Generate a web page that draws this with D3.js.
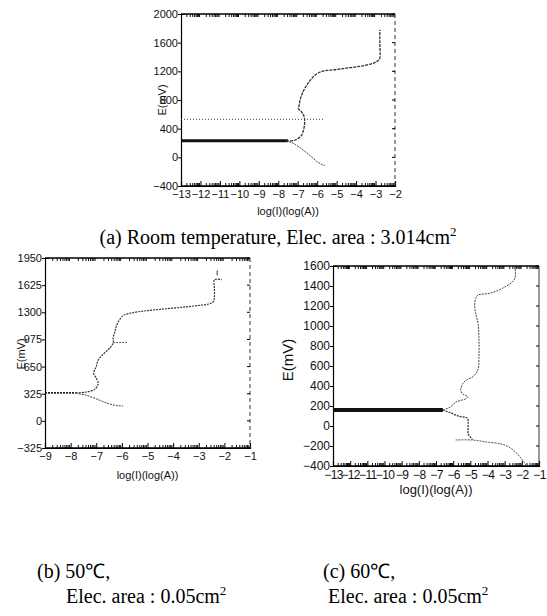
<!DOCTYPE html>
<html><head><meta charset="utf-8">
<script src="https://cdn.jsdelivr.net/npm/d3@7"></script>
<style>body{margin:0;background:#fff}</style>
</head><body>
<svg id="c" width="547" height="616"></svg>
<script>
// ---- data ----
const aXTicks = [-13,-12,-11,-10,-9,-8,-7,-6,-5,-4,-3,-2];
const aYTicks = [-400,0,400,800,1200,1600,2000];
const aPassive = [[-13,530],[-5.6,530]];
const aBase = [[-13,230],[-7.5,230]];
const aAnodic = [[-7.6,230],[-7.2,235],[-7.0,260],[-6.8,310],[-6.7,380],[-6.65,460],[-6.65,540],[-6.72,600],[-6.85,650],[-6.97,680],[-6.93,720],[-6.88,800],[-6.75,900],[-6.6,980],[-6.45,1040],[-6.25,1110],[-6.05,1160],[-5.75,1200],[-5.4,1215],[-5.0,1226],[-4.5,1245],[-4.0,1262],[-3.5,1285],[-3.1,1315],[-2.85,1355],[-2.78,1385],[-2.78,1600],[-2.78,1780]];
const aCathodic = [[-7.6,225],[-7.3,205],[-7.05,165],[-6.8,120],[-6.55,65],[-6.3,10],[-6.05,-50],[-5.8,-95],[-5.6,-115]];

const bXTicks = [-9,-8,-7,-6,-5,-4,-3,-2,-1];
const bYTicks = [-325,0,325,650,975,1300,1625,1950];
const bBase = [[-9,335],[-7.8,335]];
const bAnodic = [[-7.8,335],[-7.4,345],[-7.05,380],[-6.92,450],[-7.0,510],[-7.1,570],[-7.0,650],[-6.92,730],[-6.67,815],[-6.45,880],[-6.34,935],[-6.34,1000],[-6.28,1060],[-6.21,1140],[-6.08,1215],[-5.95,1260],[-5.63,1292],[-5.0,1320],[-4.33,1340],[-3.5,1365],[-3.03,1381],[-2.6,1400],[-2.42,1430],[-2.39,1480],[-2.39,1600],[-2.39,1690],[-2.1,1690]];
const bBranch = [[-6.34,936],[-5.8,940]];
const bCathodic = [[-7.8,330],[-7.44,310],[-7.05,270],[-6.54,208],[-6.15,180],[-5.95,180]];
const bMark = [[-2.28,1740],[-2.28,1800]];

const cXTicks = [-13,-12,-11,-10,-9,-8,-7,-6,-5,-4,-3,-2,-1];
const cYTicks = [-400,-200,0,200,400,600,800,1000,1200,1400,1600];
const cBase = [[-13,160],[-6.6,160]];
const cAnodic = [[-6.6,160],[-6.15,191],[-5.86,237],[-5.27,272],[-5.14,290],[-5.47,324],[-5.56,360],[-5.43,425],[-5.23,460],[-4.84,495],[-4.55,566],[-4.5,673],[-4.5,885],[-4.55,1027],[-4.65,1097],[-4.75,1204],[-4.69,1274],[-4.55,1310],[-3.87,1327],[-3.1,1380],[-2.42,1469],[-2.42,1600]];
const cCathodic = [[-6.6,160],[-6.15,132],[-5.66,97],[-5.17,79],[-5.13,44],[-5.13,-26],[-5.13,-78],[-4.98,-113],[-4.88,-138]];
const cTail = [[-5.86,-140],[-4.88,-140],[-4.1,-159],[-3.12,-184],[-2.53,-236],[-2.04,-324],[-1.75,-394]];

const xTitle = "log(I)(log(A))";
const yTitle = "E(mV)";

// ---- drawing ----
const svg = d3.select("#c");
svg.append("rect").attr("width",547).attr("height",616).attr("fill","#fff");
const sans = "Liberation Sans, Arial, sans-serif";

function panel(cfg){
  const g = svg.append("g");
  const x = d3.scaleLinear().domain(cfg.xd).range([cfg.l,cfg.r]);
  const y = d3.scaleLinear().domain(cfg.yd).range([cfg.b,cfg.t]);
  const minors = [];
  for(let d=cfg.xd[0]; d<cfg.xd[1]; d++) for(let k=2;k<=9;k++) minors.push(d+Math.log10(k));
  [[cfg.b,-3],[cfg.t,3]].forEach(([yy,dy])=>{
    g.selectAll(null).data(minors).enter().append("line")
      .attr("x1",d=>x(d)).attr("x2",d=>x(d)).attr("y1",yy).attr("y2",yy+dy).attr("stroke","#111").attr("stroke-width",1);
  });
  const xa = g.append("g").attr("transform",`translate(0,${cfg.b})`)
    .call(d3.axisBottom(x).tickValues(cfg.xt).tickSize(-5).tickPadding(4).tickFormat(d3.format("d")));
  const ya = g.append("g").attr("transform",`translate(${cfg.l},0)`)
    .call(d3.axisLeft(y).tickValues(cfg.yt).tickSize(-4).tickPadding(3).tickFormat(d3.format("d")));
  [xa,ya].forEach(a=>{a.select(".domain").attr("stroke","#000").attr("stroke-width",1.2);
    a.selectAll("text").attr("font-family",sans).attr("font-size",cfg.fs).attr("fill","#111");});
  xa.selectAll("text").attr("letter-spacing",cfg.ls||0);
  ya.selectAll(".tick line").attr("x2",-3).attr("x1",0);
  g.append("line").attr("x1",cfg.l).attr("x2",cfg.r).attr("y1",cfg.t).attr("y2",cfg.t).attr("stroke","#000").attr("stroke-width",1.6);
  g.append("line").attr("x1",cfg.l).attr("x2",cfg.r).attr("y1",cfg.b).attr("y2",cfg.b).attr("stroke","#000").attr("stroke-width",1.6);
  g.append("line").attr("x1",cfg.r).attr("x2",cfg.r).attr("y1",cfg.t).attr("y2",cfg.b).attr("stroke","#333")
    .attr("stroke-width",1).attr("stroke-dasharray",cfg.rdash||null);
  g.selectAll(null).data(cfg.yt).enter().append("line")
    .attr("x1",cfg.r).attr("x2",cfg.r-3).attr("y1",d=>y(d)).attr("y2",d=>y(d)).attr("stroke","#000");
  g.append("text").attr("x",(cfg.l+cfg.r)/2).attr("y",cfg.b+cfg.xtOff).attr("text-anchor","middle")
    .attr("font-family",sans).attr("font-size",cfg.tfs).attr("fill","#111").text(xTitle);
  g.append("text").attr("transform",`translate(${cfg.yx},${cfg.yy}) rotate(-90)`).attr("text-anchor","middle")
    .attr("font-family",sans).attr("font-size",cfg.yfs).attr("fill","#111").text(yTitle);
  const lin = d3.line().x(d=>x(d[0])).y(d=>y(d[1]));
  const crv = d3.line().x(d=>x(d[0])).y(d=>y(d[1])).curve(d3.curveCatmullRom);
  cfg.series.forEach(s=>{
    g.append("path").attr("d",(s.straight?lin:crv)(s.data))
      .attr("fill","none").attr("stroke",s.c||"#333").attr("stroke-width",s.w||1)
      .attr("stroke-dasharray",s.dash===undefined?"2,1":s.dash);
  });
}

panel({xd:[-13,-2],yd:[-400,2000],xt:aXTicks,yt:aYTicks,l:181,r:395,t:14,b:186,fs:11,tfs:11,yfs:11,xtOff:29,yx:166,yy:100,rdash:"4,3",
  series:[
    {data:aPassive,straight:true,dash:"1,2",w:1,c:"#444"},
    {data:aBase,straight:true,dash:null,w:3,c:"#111"},
    {data:aAnodic,w:1.3,c:"#333",dash:"3,1"},
    {data:aCathodic,w:1,c:"#444"}
  ]});
panel({xd:[-9,-1],yd:[-325,1950],xt:bXTicks,yt:bYTicks,l:45,r:250,t:258,b:448,fs:11,tfs:11,yfs:11,xtOff:31,yx:25,yy:354,rdash:"4,3",
  series:[
    {data:bBase,straight:true,dash:"2,1",w:1.8,c:"#222"},
    {data:bAnodic,w:1.2,c:"#333"},
    {data:bBranch,straight:true,w:1,c:"#555"},
    {data:bCathodic,w:1,c:"#444"},
    {data:bMark,straight:true,w:1,c:"#333",dash:null}
  ]});
panel({xd:[-13,-1],yd:[-400,1600],xt:cXTicks,yt:cYTicks,l:333,r:539,t:266,b:466,fs:12,tfs:13,yfs:15,xtOff:28,yx:293,yy:360,ls:-0.6,
  series:[
    {data:cBase,straight:true,dash:null,w:4,c:"#111"},
    {data:cAnodic,w:1,c:"#444"},
    {data:cCathodic,w:1.3,c:"#333"},
    {data:cTail,w:1,c:"#555"}
  ]});

// captions
const serif = "Liberation Serif, Times New Roman, serif";
function caption(x,y,anchor,parts){
  const t = svg.append("text").attr("x",x).attr("y",y).attr("text-anchor",anchor)
    .attr("font-family",serif).attr("font-size",20).attr("fill","#000");
  parts.forEach(p=>{ const s=t.append("tspan").text(p.t); if(p.sup){s.attr("font-size",13).attr("dy",-8);} });
}
caption(278,244,"middle",[{t:"(a) Room temperature, Elec. area : 3.014cm"},{t:"2",sup:true}]);
caption(37,578,"start",[{t:"(b) 50℃,"}]);
caption(66,603,"start",[{t:"Elec. area : 0.05cm"},{t:"2",sup:true}]);
caption(323,578,"start",[{t:"(c) 60℃,"}]);
caption(328,603,"start",[{t:"Elec. area : 0.05cm"},{t:"2",sup:true}]);
</script>
</body></html>
